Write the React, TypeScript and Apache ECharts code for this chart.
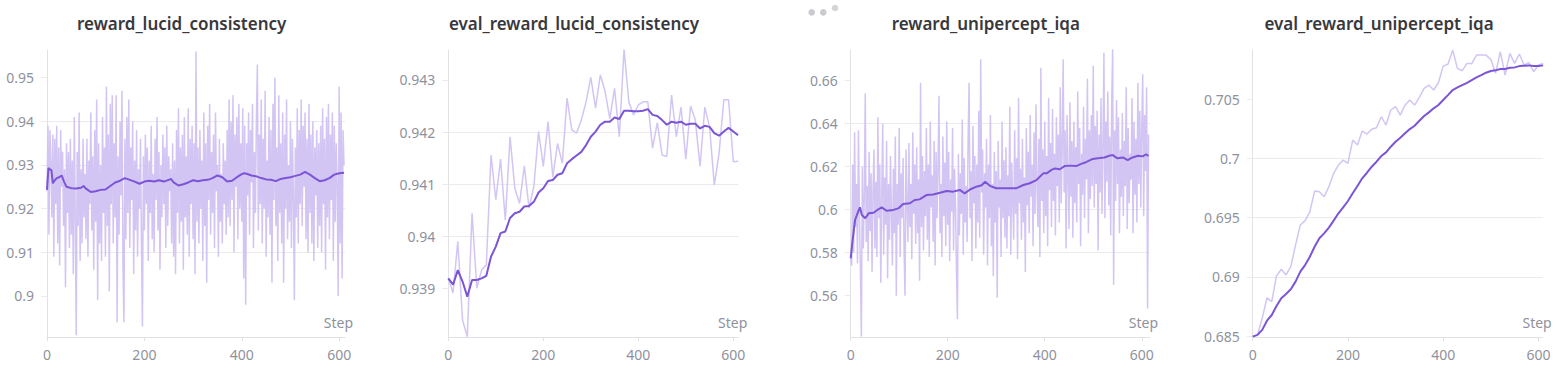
import React, { useEffect, useRef } from "react";
import * as echarts from "echarts";

// ---------- titles & ticks ----------
const titles = [
  "reward_lucid_consistency",
  "eval_reward_lucid_consistency",
  "reward_unipercept_iqa",
  "eval_reward_unipercept_iqa",
];
const xTicks = [0, 200, 400, 600];
const yTicks1 = [0.9, 0.91, 0.92, 0.93, 0.94, 0.95];
const yTicks2 = [0.939, 0.94, 0.941, 0.942, 0.943];
const yTicks3 = [0.56, 0.58, 0.6, 0.62, 0.64, 0.66];
const yTicks4 = [0.685, 0.69, 0.695, 0.7, 0.705];

// ---------- panel 1: reward_lucid_consistency (raw every 2 steps) ----------
const raw1 = [
  0.924, 0.939, 0.914, 0.938, 0.931, 0.918, 0.937, 0.909, 0.936, 0.921,
  0.939, 0.912, 0.934, 0.907, 0.938, 0.925, 0.933, 0.916, 0.929, 0.902,
  0.935, 0.919, 0.933, 0.911, 0.936, 0.914, 0.931, 0.905, 0.941, 0.919,
  0.891, 0.933, 0.916, 0.942, 0.908, 0.929, 0.912, 0.936, 0.918, 0.928,
  0.913, 0.936, 0.909, 0.931, 0.921, 0.942, 0.915, 0.932, 0.906, 0.938,
  0.917, 0.945, 0.899, 0.935, 0.912, 0.930, 0.908, 0.941, 0.919, 0.934,
  0.909, 0.948, 0.916, 0.937, 0.901, 0.944, 0.921, 0.946, 0.912, 0.935,
  0.918, 0.946, 0.894, 0.932, 0.914, 0.940, 0.923, 0.947, 0.907, 0.894,
  0.936, 0.913, 0.941, 0.919, 0.945, 0.911, 0.934, 0.922, 0.940, 0.905,
  0.931, 0.915, 0.938, 0.909, 0.929, 0.920, 0.936, 0.912, 0.893, 0.932,
  0.915, 0.937, 0.921, 0.934, 0.908, 0.931, 0.919, 0.939, 0.913, 0.928,
  0.910, 0.936, 0.922, 0.941, 0.915, 0.933, 0.906, 0.930, 0.918, 0.937,
  0.921, 0.934, 0.911, 0.939, 0.916, 0.932, 0.924, 0.929, 0.912, 0.935,
  0.909, 0.931, 0.905, 0.938, 0.919, 0.943, 0.912, 0.934, 0.917, 0.937,
  0.906, 0.941, 0.918, 0.932, 0.914, 0.943, 0.909, 0.936, 0.921, 0.939,
  0.913, 0.935, 0.905, 0.956, 0.917, 0.934, 0.912, 0.938, 0.920, 0.931,
  0.908, 0.942, 0.916, 0.935, 0.903, 0.939, 0.922, 0.944, 0.914, 0.933,
  0.919, 0.937, 0.911, 0.942, 0.924, 0.930, 0.909, 0.936, 0.917, 0.928,
  0.912, 0.935, 0.921, 0.931, 0.914, 0.938, 0.918, 0.945, 0.916, 0.940,
  0.922, 0.946, 0.910, 0.937, 0.925, 0.941, 0.913, 0.944, 0.920, 0.935,
  0.917, 0.943, 0.904, 0.939, 0.898, 0.935, 0.923, 0.942, 0.914, 0.938,
  0.926, 0.944, 0.911, 0.933, 0.919, 0.940, 0.953, 0.915, 0.937, 0.921,
  0.945, 0.912, 0.936, 0.920, 0.947, 0.909, 0.931, 0.918, 0.941, 0.914,
  0.938, 0.903, 0.944, 0.922, 0.950, 0.916, 0.934, 0.908, 0.946, 0.919,
  0.935, 0.912, 0.942, 0.903, 0.937, 0.920, 0.945, 0.913, 0.930, 0.917,
  0.940, 0.911, 0.936, 0.923, 0.899, 0.934, 0.918, 0.943, 0.912, 0.938,
  0.921, 0.945, 0.916, 0.939, 0.925, 0.942, 0.913, 0.936, 0.910, 0.944,
  0.919, 0.937, 0.912, 0.940, 0.908, 0.934, 0.923, 0.938, 0.911, 0.935,
  0.916, 0.939, 0.910, 0.943, 0.921, 0.936, 0.906, 0.941, 0.918, 0.944,
  0.913, 0.937, 0.922, 0.942, 0.908, 0.939, 0.917, 0.935, 0.925, 0.900,
  0.948, 0.912, 0.942, 0.904, 0.938, 0.930,
];
const smoothSteps1 = [
  0, 3, 6, 9, 12, 16, 20, 25, 30, 35, 40, 50, 60, 70, 75, 80, 90, 100, 110, 120,
  130, 140, 150, 160, 170, 180, 190, 200, 210, 220, 230, 240, 250, 255, 260, 270,
  280, 290, 300, 310, 320, 330, 340, 350, 360, 370, 380, 390, 400, 405, 410, 420,
  430, 440, 450, 460, 470, 480, 490, 500, 510, 520, 530, 540, 550, 560, 570, 580,
  590, 600, 610,
];
const smooth1 = [
  0.9243, 0.9293, 0.929, 0.9288, 0.9258, 0.9265, 0.927, 0.9272, 0.9276, 0.9262,
  0.925, 0.9247, 0.9246, 0.9248, 0.9252, 0.9246, 0.9238, 0.924, 0.9243, 0.9244,
  0.9252, 0.926, 0.9264, 0.927, 0.9266, 0.9262, 0.9257, 0.9262, 0.9264, 0.9262,
  0.9265, 0.9262, 0.9266, 0.9268, 0.926, 0.9253, 0.9256, 0.926, 0.9265, 0.9263,
  0.9265, 0.9266, 0.927, 0.9276, 0.9272, 0.9262, 0.9264, 0.9272, 0.9279, 0.9281,
  0.928, 0.9276, 0.9274, 0.927, 0.9267, 0.9266, 0.9263, 0.9268, 0.927, 0.9272,
  0.9275, 0.9278, 0.9284, 0.9278, 0.927, 0.9263, 0.9265, 0.927, 0.9278, 0.9281,
  0.9282,
];

// ---------- panel 2: eval_reward_lucid_consistency (every 10 steps) ----------
const evalSteps = [
  0, 10, 20, 30, 40, 50, 60, 70, 80, 90, 100, 110, 120, 130, 140, 150, 160, 170,
  180, 190, 200, 210, 220, 230, 240, 250, 260, 270, 280, 290, 300, 310, 320, 330,
  340, 350, 360, 370, 380, 390, 400, 410, 420, 430, 440, 450, 460, 470, 480, 490,
  500, 510, 520, 530, 540, 550, 560, 570, 580, 590, 600, 610,
];
const raw2 = [
  0.93919, 0.93891, 0.9399, 0.93839, 0.93807, 0.94044, 0.939, 0.93935, 0.93945, 0.94156,
  0.9407, 0.94148, 0.94031, 0.94191, 0.94092, 0.94063, 0.94135, 0.94054, 0.94095, 0.94201,
  0.94134, 0.9422, 0.94114, 0.94178, 0.9414, 0.94265, 0.94204, 0.94198, 0.94223, 0.94258,
  0.94305, 0.94246, 0.9431, 0.94278, 0.94226, 0.94284, 0.94191, 0.94359, 0.94258, 0.94233,
  0.94252, 0.94258, 0.94258, 0.94169, 0.94218, 0.94156, 0.94153, 0.94271, 0.94191, 0.94248,
  0.94148, 0.9425, 0.94223, 0.94134, 0.94248, 0.9421, 0.94098, 0.94159, 0.94262, 0.94262,
  0.94143, 0.94144,
];
const smooth2 = [
  0.93919, 0.93907, 0.93935, 0.93913, 0.93884, 0.93916, 0.93916, 0.93919, 0.93924, 0.93961,
  0.9398, 0.94006, 0.94009, 0.94035, 0.94044, 0.94047, 0.94057, 0.94058, 0.94066, 0.94084,
  0.94092, 0.94106, 0.94108, 0.94118, 0.94121, 0.9414, 0.94148, 0.94155, 0.94162, 0.94175,
  0.94191, 0.94201, 0.94214, 0.9422, 0.9422, 0.94228, 0.94225, 0.94241, 0.94241, 0.9424,
  0.9424, 0.94241, 0.94244, 0.94233, 0.94231, 0.94223, 0.94214, 0.9422, 0.94218, 0.9422,
  0.94214, 0.94216, 0.94216, 0.94207, 0.94212, 0.9421, 0.94198, 0.94193, 0.94201, 0.94208,
  0.94201, 0.94194,
];

// ---------- panel 3: reward_unipercept_iqa (raw every 2 steps) ----------
const raw3 = [
  0.577, 0.574, 0.621, 0.58, 0.636, 0.592, 0.612, 0.575, 0.637, 0.598,
  0.572, 0.541, 0.62, 0.582, 0.606, 0.654, 0.585, 0.611, 0.576, 0.627,
  0.59, 0.617, 0.571, 0.609, 0.628, 0.582, 0.613, 0.578, 0.643, 0.596,
  0.621, 0.566, 0.607, 0.64, 0.579, 0.615, 0.593, 0.632, 0.568, 0.612,
  0.586, 0.625, 0.598, 0.574, 0.619, 0.589, 0.634, 0.56, 0.612, 0.593,
  0.638, 0.578, 0.617, 0.596, 0.624, 0.582, 0.56, 0.628, 0.603, 0.585,
  0.631, 0.592, 0.612, 0.577, 0.636, 0.598, 0.621, 0.584, 0.629, 0.589,
  0.614, 0.567, 0.659, 0.592, 0.625, 0.581, 0.618, 0.597, 0.638, 0.586,
  0.621, 0.578, 0.641, 0.601, 0.616, 0.585, 0.632, 0.574, 0.627, 0.596,
  0.619, 0.653, 0.589, 0.612, 0.578, 0.634, 0.597, 0.622, 0.583, 0.641,
  0.593, 0.627, 0.576, 0.614, 0.599, 0.638, 0.581, 0.619, 0.603, 0.572,
  0.549, 0.626, 0.588, 0.617, 0.598, 0.642, 0.579, 0.624, 0.594, 0.611,
  0.585, 0.632, 0.659, 0.596, 0.618, 0.576, 0.639, 0.603, 0.625, 0.582,
  0.621, 0.594, 0.646, 0.587, 0.67, 0.608, 0.628, 0.579, 0.617, 0.601,
  0.633, 0.574, 0.621, 0.596, 0.644, 0.583, 0.612, 0.569, 0.627, 0.594,
  0.618, 0.559, 0.632, 0.601, 0.614, 0.578, 0.641, 0.596, 0.623, 0.587,
  0.629, 0.582, 0.616, 0.597, 0.648, 0.579, 0.622, 0.604, 0.586, 0.637,
  0.598, 0.624, 0.577, 0.652, 0.603, 0.619, 0.586, 0.633, 0.594, 0.615,
  0.571, 0.638, 0.602, 0.627, 0.589, 0.644, 0.606, 0.621, 0.583, 0.636,
  0.598, 0.649, 0.611, 0.592, 0.633, 0.578, 0.666, 0.604, 0.628, 0.589,
  0.641, 0.597, 0.625, 0.583, 0.652, 0.609, 0.631, 0.592, 0.647, 0.604,
  0.626, 0.588, 0.643, 0.611, 0.635, 0.594, 0.657, 0.603, 0.629, 0.67,
  0.608, 0.637, 0.582, 0.644, 0.615, 0.591, 0.65, 0.606, 0.632, 0.587,
  0.641, 0.603, 0.629, 0.594, 0.655, 0.612, 0.638, 0.583, 0.626, 0.607,
  0.648, 0.596, 0.633, 0.614, 0.661, 0.589, 0.637, 0.605, 0.644, 0.611,
  0.667, 0.601, 0.639, 0.612, 0.646, 0.581, 0.635, 0.608, 0.652, 0.598,
  0.629, 0.673, 0.596, 0.641, 0.613, 0.655, 0.602, 0.634, 0.588, 0.648,
  0.675, 0.565, 0.637, 0.604, 0.651, 0.612, 0.643, 0.589, 0.628, 0.606,
  0.645, 0.597, 0.632, 0.611, 0.657, 0.591, 0.638, 0.603, 0.626, 0.614,
  0.652, 0.589, 0.641, 0.607, 0.633, 0.594, 0.659, 0.612, 0.646, 0.601,
  0.638, 0.663, 0.597, 0.644, 0.618, 0.657, 0.554, 0.635,
];
const smoothSteps3 = [
  0, 4, 9, 14, 19, 23, 30, 37, 47, 57, 64, 74, 88, 98, 108, 122, 132, 142, 156, 170,
  184, 198, 211, 225, 235, 246, 259, 270, 277, 287, 300, 314, 328, 342, 356, 369, 383,
  397, 404, 414, 421, 431, 441, 451, 465, 475, 485, 499, 513, 523, 533, 540, 550, 561,
  571, 581, 592, 602, 609, 614,
];
const smooth3 = [
  0.5774, 0.5859, 0.5952, 0.5983, 0.6011, 0.5975, 0.596, 0.5983, 0.5986, 0.6002,
  0.6011, 0.5995, 0.5999, 0.6006, 0.6027, 0.603, 0.6045, 0.6048, 0.6068, 0.6071,
  0.6079, 0.6087, 0.6084, 0.6092, 0.6076, 0.6094, 0.6107, 0.6114, 0.613, 0.6111,
  0.61, 0.61, 0.61, 0.61, 0.6115, 0.6123, 0.6138, 0.6169, 0.6169, 0.6185,
  0.6192, 0.6188, 0.6203, 0.6205, 0.6203, 0.6213, 0.6221, 0.6236, 0.624, 0.6243,
  0.6251, 0.6254, 0.6239, 0.6243, 0.6231, 0.6243, 0.6251, 0.6248, 0.6258, 0.625,
];

// ---------- panel 4: eval_reward_unipercept_iqa (every 10 steps) ----------
const raw4 = [
  0.68495, 0.6851, 0.6865, 0.68824, 0.68791, 0.69008, 0.69064, 0.69016, 0.69086, 0.6927,
  0.69438, 0.69475, 0.6955, 0.69725, 0.6972, 0.69677, 0.69762, 0.69875, 0.69945, 0.69987,
  0.6996, 0.70156, 0.70114, 0.70232, 0.70207, 0.70247, 0.7026, 0.70353, 0.70283, 0.7041,
  0.70438, 0.70367, 0.70452, 0.70494, 0.70452, 0.70517, 0.70593, 0.70621, 0.70579, 0.7064,
  0.70781, 0.70796, 0.70916, 0.70762, 0.70742, 0.70804, 0.70801, 0.70874, 0.70874, 0.70874,
  0.70838, 0.7072, 0.70902, 0.70705, 0.70888, 0.70804, 0.70883, 0.7079, 0.7081, 0.70733,
  0.7079, 0.70804,
];
const smooth4 = [
  0.68495, 0.6851, 0.68552, 0.6863, 0.68678, 0.68754, 0.68819, 0.68856, 0.68895, 0.6896,
  0.69044, 0.691, 0.6917, 0.69255, 0.69326, 0.69368, 0.69416, 0.69475, 0.69537, 0.69588,
  0.69641, 0.69706, 0.69768, 0.69833, 0.6988, 0.69931, 0.69973, 0.70021, 0.70052, 0.701,
  0.70142, 0.70176, 0.70213, 0.70249, 0.70277, 0.70319, 0.70359, 0.7039, 0.70424, 0.70452,
  0.70494, 0.70536, 0.70579, 0.70601, 0.70621, 0.7064, 0.70663, 0.70686, 0.70705, 0.70725,
  0.70739, 0.70745, 0.70756, 0.70756, 0.70767, 0.7077, 0.70781, 0.70784, 0.70787, 0.70781,
  0.70781, 0.70787,
];

const RAW_COLOR = "#d3c5f3";
const SMOOTH_COLOR = "#7b55d6";
const TICK_COLOR = "#8f929c";
const GRID_COLOR = "#ebebed";
const AXIS_COLOR = "#e2e2e6";
const FONT = "'Noto Sans', 'Open Sans', sans-serif";

const zip = (xs: number[], ys: number[]) => ys.map((y, i) => [xs[i], y]);
const everyTwo = (ys: number[]) => ys.map((y, i) => [i * 2, y]);

export default function App() {
  const ref = useRef<HTMLDivElement>(null);

  useEffect(() => {
    document.body.style.margin = "0";
    document.body.style.overflow = "hidden";
    if (!ref.current) return;
    const chart = echarts.init(ref.current, undefined, { renderer: "svg" });

    const panels = [
      { left: 47, width: 298, xMax: 612, yMin: 0.8906, yMax: 0.95634, ticks: yTicks1, step: 0.01,
        raw: everyTwo(raw1), smooth: zip(smoothSteps1, smooth1), rawW: 1.5 },
      { left: 448.3, width: 290, xMax: 610.5, yMin: 0.938065, yMax: 0.943576, ticks: yTicks2, step: 0.001,
        raw: zip(evalSteps, raw2), smooth: zip(evalSteps, smooth2), rawW: 1.5 },
      { left: 850.7, width: 299.3, xMax: 617, yMin: 0.54079, yMax: 0.67428, ticks: yTicks3, step: 0.02,
        raw: everyTwo(raw3), smooth: zip(smoothSteps3, smooth3), rawW: 1.5 },
      { left: 1252.7, width: 290, xMax: 609, yMin: 0.68492, yMax: 0.70917, ticks: yTicks4, step: 0.005,
        raw: zip(evalSteps, raw4), smooth: zip(evalSteps, smooth4), rawW: 1.5 },
    ];
    const top = 50;
    const height = 287;

    const isTick = (v: number, step: number) =>
      Math.abs(v / step - Math.round(v / step)) < 1e-6;

    const grid = panels.map((p) => ({ left: p.left, top, width: p.width, height }));
    const xAxis = panels.map((p, i) => ({
      type: "value",
      gridIndex: i,
      min: 0,
      max: p.xMax,
      interval: 200,
      axisLine: { show: true, lineStyle: { color: AXIS_COLOR, width: 1 } },
      axisTick: { show: true, length: 4, lineStyle: { color: AXIS_COLOR }, customValues: xTicks },
      axisLabel: {
        color: TICK_COLOR,
        fontSize: 14,
        fontFamily: FONT,
        margin: 10,
        customValues: xTicks,
        formatter: (v: number) => (isTick(v, 200) ? String(v) : ""),
      },
      splitLine: { show: false },
    }));
    const yAxis = panels.map((p, i) => ({
      type: "value",
      gridIndex: i,
      min: p.yMin,
      max: p.yMax,
      minInterval: p.step,
      maxInterval: p.step,
      axisLine: { show: true, lineStyle: { color: AXIS_COLOR, width: 1 } },
      axisTick: { show: true, length: 6, lineStyle: { color: GRID_COLOR }, customValues: p.ticks },
      axisLabel: {
        color: TICK_COLOR,
        fontSize: 14,
        fontFamily: FONT,
        margin: 13,
        customValues: p.ticks,
        formatter: (v: number) => (isTick(v, p.step) ? String(Number(v.toFixed(4))) : ""),
      },
      splitLine: {
        show: true,
        showMinLine: false,
        showMaxLine: false,
        lineStyle: { color: GRID_COLOR, width: 1 },
      },
    }));

    const series: any[] = [];
    panels.forEach((p, i) => {
      series.push({
        type: "line",
        xAxisIndex: i,
        yAxisIndex: i,
        data: p.raw,
        showSymbol: false,
        symbol: "none",
        clip: true,
        lineStyle: { color: RAW_COLOR, width: p.rawW },
        z: 2,
      });
      series.push({
        type: "line",
        xAxisIndex: i,
        yAxisIndex: i,
        data: p.smooth,
        showSymbol: false,
        symbol: "none",
        clip: true,
        lineStyle: { color: SMOOTH_COLOR, width: 2 },
        z: 3,
      });
    });

    const titleCenters = [181.7, 574, 985.8, 1379];
    const stepRights = [353, 747.3, 1158, 1551.7];
    const graphic: any[] = [];
    titles.forEach((t, i) => {
      graphic.push({
        type: "text",
        x: titleCenters[i],
        y: 23,
        style: {
          text: t,
          fill: "#38383d",
          font: `600 17px ${FONT}`,
          textAlign: "center",
          textVerticalAlign: "middle",
        },
      });
      graphic.push({
        type: "text",
        x: stepRights[i],
        y: 322,
        style: {
          text: "Step",
          fill: TICK_COLOR,
          font: `14px ${FONT}`,
          textAlign: "right",
          textVerticalAlign: "middle",
        },
      });
    });
    graphic.push(
      { type: "circle", shape: { cx: 811.7, cy: 12.3, r: 3.3 }, style: { fill: "#c9c9ce" } },
      { type: "circle", shape: { cx: 823.3, cy: 12.3, r: 3.3 }, style: { fill: "#c9c9ce" } },
      { type: "circle", shape: { cx: 835, cy: 8, r: 3.3 }, style: { fill: "#d3d3d8" } }
    );

    chart.setOption({
      animation: false,
      backgroundColor: "#ffffff",
      grid,
      xAxis,
      yAxis,
      series,
      graphic,
    });

    return () => chart.dispose();
  }, []);

  return <div ref={ref} style={{ width: 1564, height: 372 }} />;
}
